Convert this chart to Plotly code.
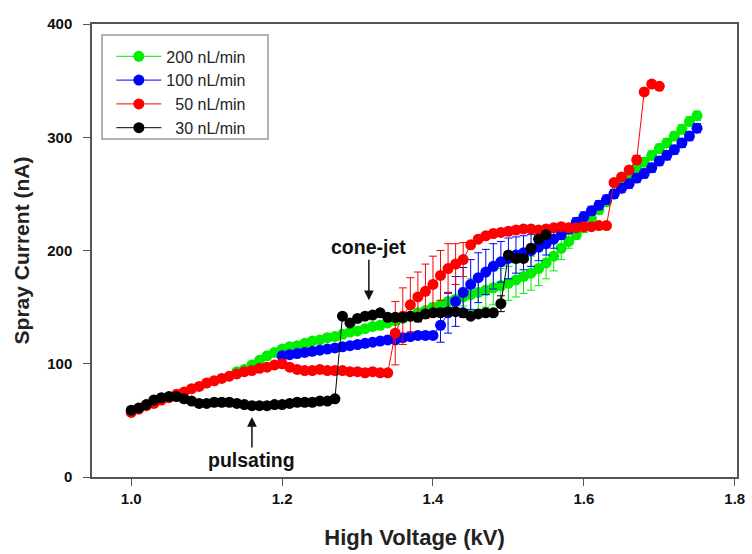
import plotly.graph_objects as go

# Voltage grid (kV)
V = [1.00, 1.01, 1.02, 1.03, 1.04, 1.05, 1.06, 1.07, 1.08, 1.09,
     1.10, 1.11, 1.12, 1.13, 1.14, 1.15, 1.16, 1.17, 1.18, 1.19,
     1.20, 1.21, 1.22, 1.23, 1.24, 1.25, 1.26, 1.27, 1.28, 1.29,
     1.30, 1.31, 1.32, 1.33, 1.34, 1.35, 1.36, 1.37, 1.38, 1.39,
     1.40, 1.41, 1.42, 1.43, 1.44, 1.45, 1.46, 1.47, 1.48, 1.49,
     1.50, 1.51, 1.52, 1.53, 1.54, 1.55, 1.56, 1.57, 1.58, 1.59,
     1.60, 1.61, 1.62, 1.63, 1.64, 1.65, 1.66, 1.67, 1.68, 1.69,
     1.70, 1.71, 1.72, 1.73, 1.74, 1.75]

# 200 nL/min (green): 1.14 .. 1.75
x200 = V[14:76]
y200 = [93, 95, 99, 103, 107, 110, 113, 115, 116, 118, 120,
        121, 123, 124, 126, 128, 129, 131, 133, 134, 136,
        138, 140, 142, 145, 147, 150, 152, 155, 157, 159,
        161, 163, 165, 167, 169, 171, 174, 177, 180, 184,
        189, 195, 202, 208, 214, 220, 228, 236, 243, 250,
        258, 265, 272, 278, 284, 290, 295, 301, 307, 314, 319]
e200 = [0, 0, 0, 0, 0, 0, 0, 0, 0, 0, 0,
        0, 0, 0, 0, 0, 0, 0, 0, 0, 0,
        0, 0, 0, 0, 0, 0, 0, 0, 3, 8,
        14, 15, 15, 15, 15, 15, 15, 15, 15, 15,
        14, 13, 10, 6, 4, 4, 4, 4, 4, 4,
        4, 4, 4, 4, 4, 4, 4, 4, 4, 4, 4]

# 100 nL/min (blue): 1.20 .. 1.75
x100 = V[20:76]
y100 = [107, 108, 109, 110, 111, 112, 113, 114, 115, 116,
        117, 118, 119, 120, 121, 121, 123, 124, 125, 125,
        125, 134, 145, 155, 163, 170, 176, 181, 186, 190,
        193, 196, 198, 200, 203, 206, 210, 214, 219, 225,
        230, 235, 240, 245, 250, 255, 259, 264, 268, 273,
        279, 284, 289, 295, 301, 308]
e100 = [0, 0, 0, 0, 0, 0, 0, 0, 0, 0,
        0, 0, 0, 0, 0, 0, 0, 0, 0, 0,
        0, 15, 18, 22, 22, 22, 22, 20, 20, 18,
        18, 16, 15, 14, 12, 10, 8, 4, 4, 4,
        4, 4, 4, 4, 4, 4, 4, 4, 4, 4,
        4, 4, 4, 4, 4, 4]

# 50 nL/min (red): 1.00 .. 1.70
x50 = V[0:71]
y50 = [57, 60, 63, 65, 68, 70, 73, 75, 78, 80,
       83, 85, 87, 89, 91, 93, 94, 96, 97, 99,
       100, 97, 95, 94, 94, 95, 94, 94, 94, 93,
       93, 92, 93, 92, 92, 127, 142, 152, 159, 164,
       170, 178, 184, 188, 192, 205, 210, 213, 215, 216,
       217, 218, 219, 219, 218, 219, 220, 221, 220, 220,
       221, 221, 222, 222, 260, 265, 271, 280, 340, 347, 345]
e50 = [0, 0, 0, 0, 0, 0, 0, 0, 0, 0,
       0, 0, 0, 0, 0, 0, 0, 0, 0, 0,
       0, 0, 0, 0, 0, 0, 0, 0, 0, 0,
       0, 0, 0, 0, 0, 28, 25, 24, 22, 24,
       25, 22, 22, 18, 15, 0, 0, 0, 0, 0,
       0, 0, 0, 0, 0, 0, 0, 0, 0, 0,
       0, 0, 0, 0, 0, 0, 0, 4, 0, 0, 0]

# 30 nL/min (black): 1.00 .. 1.55
x30 = V[0:56]
y30 = [59, 61, 64, 68, 70, 71, 71, 69, 67, 65,
       65, 66, 66, 66, 65, 64, 63, 63, 63, 64,
       64, 65, 66, 66, 66, 67, 67, 69, 142, 136,
       140, 142, 143, 145, 141, 141, 141, 142, 141, 144,
       145, 145, 146, 146, 145, 142, 144, 145, 145, 153,
       196, 193, 193, 202, 210, 214]
e30 = [0] * 49 + [7, 3, 3, 3, 3, 3, 3]

series = [
    ("200 nL/min", x200, y200, e200, "#00ee00"),
    ("100 nL/min", x100, y100, e100, "#0000ff"),
    ("\u200750 nL/min", x50, y50, e50, "#ff0000"),
    ("\u200730 nL/min", x30, y30, e30, "#000000"),
]

x_ticks = [1.0, 1.2, 1.4, 1.6, 1.8]
y_ticks = [0, 100, 200, 300, 400]

fig = go.Figure()
for name, xs, ys, es, col in series:
    fig.add_trace(go.Scatter(
        x=xs, y=ys, name=name, mode="lines+markers",
        line=dict(color=col, width=1),
        marker=dict(color=col, size=11, line=dict(width=0)),
        error_y=dict(type="data", array=es, visible=True, color=col,
                     thickness=1, width=4),
    ))

FONT = "Liberation Sans, Arial, sans-serif"

fig.update_layout(
    width=752, height=554,
    margin=dict(l=92, r=15, t=24, b=77),
    paper_bgcolor="white", plot_bgcolor="white",
    font=dict(family=FONT, color="#111"),
    showlegend=True,
    legend=dict(x=0.03, y=0.966, xanchor="left", yanchor="top",
                bgcolor="rgba(0,0,0,0)", borderwidth=0,
                font=dict(family=FONT, size=16, color="#222"),
                itemwidth=45, tracegroupgap=0),
    xaxis=dict(range=[0.948, 1.803], tickvals=x_ticks, tickformat=".1f",
               automargin=False,
               showgrid=False, zeroline=False,
               showline=True, linecolor="#555", linewidth=1.5, mirror=True,
               ticks="outside", ticklen=7, tickcolor="#555", tickwidth=1,
               tickfont=dict(family=FONT, size=15, weight="bold", color="#111"),
               title=dict(text="High Voltage (kV)", standoff=24,
                          font=dict(family=FONT, size=22, weight="bold", color="#222"))),
    yaxis=dict(range=[0, 400], tickvals=y_ticks,
               automargin=False,
               showgrid=False, zeroline=False,
               showline=True, linecolor="#555", linewidth=1.5, mirror=True,
               ticks="outside", ticklen=7, tickcolor="#555", tickwidth=1,
               ticklabelstandoff=8,
               tickfont=dict(family=FONT, size=15, weight="bold", color="#111"),
               title=dict(text="Spray Current (nA)", standoff=12,
                          font=dict(family=FONT, size=21, weight="bold", color="#222"))),
    shapes=[dict(type="rect", xref="paper", yref="paper",
                 x0=(102 - 92) / 645, x1=(268 - 92) / 645,
                 y0=1 - (139 - 24) / 453, y1=1 - (35 - 24) / 453,
                 line=dict(color="#999", width=1.5), fillcolor="rgba(0,0,0,0)")],
    annotations=[
        dict(x=1.315, y=156, xref="x", yref="y", text="cone-jet",
             showarrow=True, ax=0, ay=-53, axref="pixel", ayref="pixel",
             arrowhead=2, arrowsize=1.3, arrowwidth=1.5, arrowcolor="#111",
             font=dict(family=FONT, size=19.5, weight="bold", color="#111")),
        dict(x=1.160, y=53, xref="x", yref="y", text="pulsating",
             showarrow=True, ax=0, ay=43, axref="pixel", ayref="pixel",
             arrowhead=2, arrowsize=1.3, arrowwidth=1.5, arrowcolor="#111",
             font=dict(family=FONT, size=19.5, weight="bold", color="#111")),
    ],
)

fig.write_html("out.html")
